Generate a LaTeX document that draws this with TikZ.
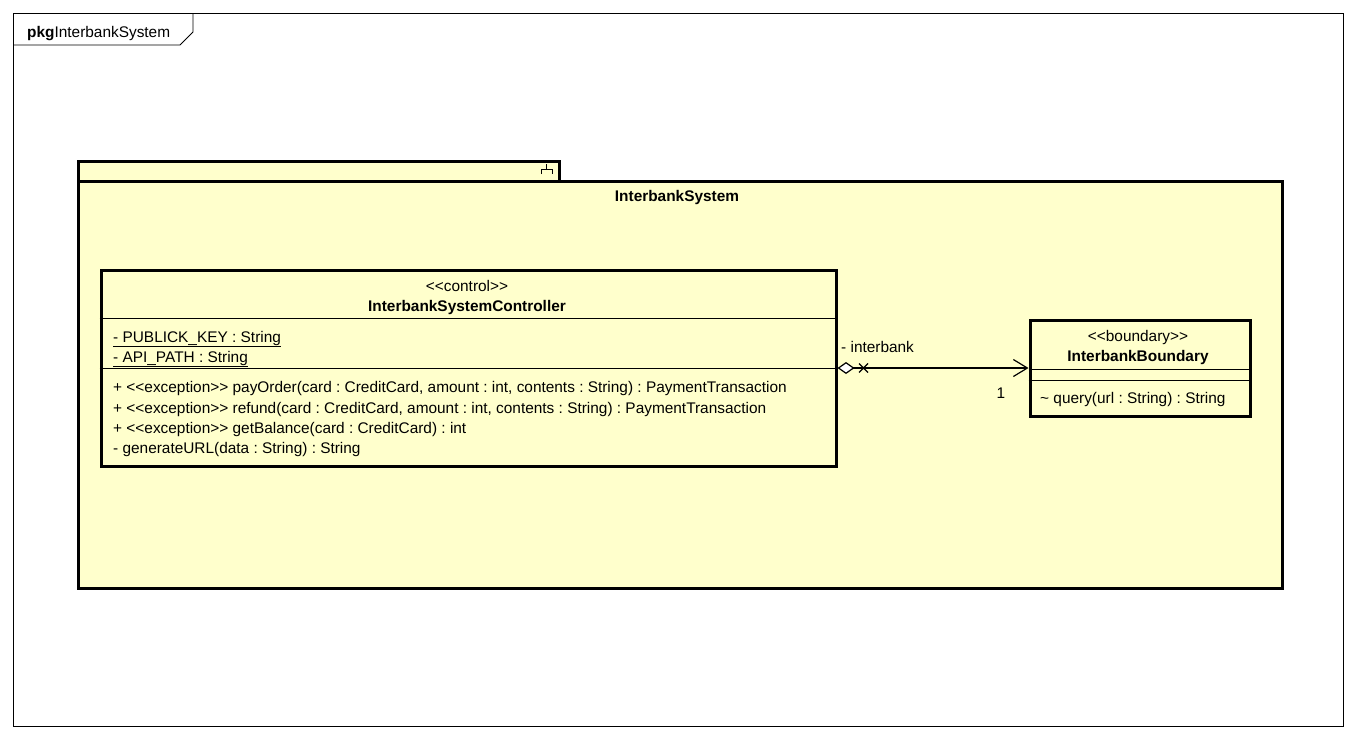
\documentclass[tikz,border=0pt]{standalone}
\usepackage{fontspec}
\setmainfont{Liberation Sans}
\usetikzlibrary{positioning, arrows.meta}
\definecolor{pkgfill}{RGB}{255,255,204}
\newcommand{\lgl}{<\kern0pt<}
\newcommand{\rgl}{>\kern0pt>}
\frenchspacing

\begin{document}
\begin{tikzpicture}[x=1pt, y=-1pt, font=\fontsize{15.4}{18}\selectfont,
	box/.style={draw, line width=3pt, fill=pkgfill, inner sep=0pt, anchor=north west},
	txt/.style={inner sep=0pt, anchor=base west},
	ctr/.style={inner sep=0pt, anchor=base},
	sep/.style={line width=1pt}]
	\useasboundingbox (0,0) rectangle (1356,740);
	
	% frame
	\node[draw, line width=0.8pt, minimum width=1330pt, minimum height=713pt, inner sep=0pt, anchor=north west] (frame) at (13,13) {};
	\draw[line width=0.8pt] (frame.north west |- 0,45) -- (180,45) -- (193,32) -- (193,13);
	\node[txt] (framelbl) at (27,37) {\textbf{pkg}InterbankSystem};
	
	% package
	\node[box, minimum width=481pt, minimum height=20pt] (tab) at (76.5,159.5) {};
	\node[box, minimum width=1204pt, minimum height=407pt] (pkg) at (76.5,179.5) {};
	\draw[line width=0.9pt] (541,174) -- (541,169) -- (552,169) -- (552,174) (546,169) -- (546,164);
	\node[ctr] (pkgname) at (677,201) {\textbf{InterbankSystem}};
	
	% classes
	\node[box, minimum width=735pt, minimum height=196pt] (ctrl) at (99.5,268.5) {};
	\node[box, minimum width=220pt, minimum height=96pt] (bnd) at (1028.5,318.5) {};
	\draw[sep] (ctrl.west |- 0,318) -- (ctrl.east |- 0,318);
	\draw[sep] (ctrl.west |- 0,368) -- (ctrl.east |- 0,368);
	\draw[sep] (bnd.west |- 0,369) -- (bnd.east |- 0,369);
	\draw[sep] (bnd.west |- 0,380) -- (bnd.east |- 0,380);
	
	\node[ctr] (ctrlst)   at (467,291) {\lgl control\rgl};
	\node[ctr] (ctrlname) at (467,311) {\textbf{InterbankSystemController}};
	\node[txt] (attr1) at (113,342) {\underline{- PUBLICK\_KEY : String}};
	\node[txt] (attr2) at (113,362) {\underline{- API\_PATH : String}};
	\node[txt] (op1) at (113,392) {+ \lgl exception\rgl{} payOrder(card : CreditCard, amount : int, contents : String) : PaymentTransaction};
	\node[txt] (op2) at (113,413) {+ \lgl exception\rgl{} refund(card : CreditCard, amount : int, contents : String) : PaymentTransaction};
	\node[txt] (op3) at (113,433) {+ \lgl exception\rgl{} getBalance(card : CreditCard) : int};
	\node[txt] (op4) at (113,453) {- generateURL(data : String) : String};
	
	\node[ctr] (bndst)   at (1138,341) {\lgl boundary\rgl};
	\node[ctr] (bndname) at (1138,361) {\textbf{InterbankBoundary}};
	\node[txt] (bndop) at (1040,403) {\textasciitilde{} query(url : String) : String};
	
	% association
	\draw[line width=1.2pt, {Diamond[open, fill=white, length=17pt, width=12pt]}-{Straight Barb[length=14pt, width=17pt]}] (ctrl.east) -- (bnd.west);
	\draw[line width=1.2pt] ([xshift=26pt]ctrl.east) +(-4.5,-4.5) -- +(4.5,4.5) +(-4.5,4.5) -- +(4.5,-4.5);
	\node[txt] (role) at (841,352) {- interbank};
	\node[ctr] (mult) at (1001,398) {1};
\end{tikzpicture}
\end{document}
